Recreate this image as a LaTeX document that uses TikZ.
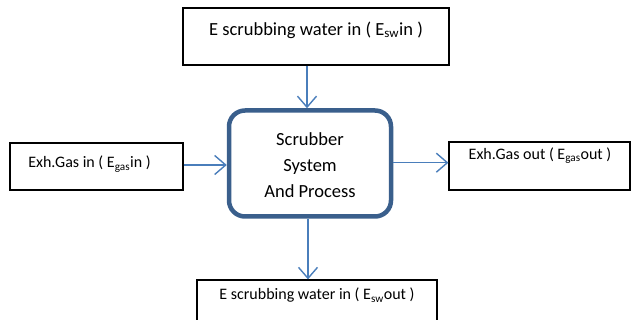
\documentclass[tikz,border=0pt]{standalone}
\usepackage{fontspec}
\setmainfont{Carlito}
\usetikzlibrary{arrows.meta}
\definecolor{coreblue}{RGB}{58, 95, 140}
\definecolor{flowblue}{RGB}{74, 126, 187}

\tikzset{
  box/.style={draw=black, line width=1.2pt, fill=white, inner sep=0pt},
  core/.style={draw=coreblue, line width=4.5pt, rounded corners=16pt, fill=white, inner sep=0pt},
  lbl/.style={inner sep=0pt, align=center},
  flow/.style={draw=flowblue, line width=1.4pt, -{Straight Barb[length=11pt,width=19pt,line width=1.4pt]}}
}

\begin{document}
\begin{tikzpicture}[x=1pt, y=-1pt]
 \useasboundingbox (0,0) rectangle (632,320);
 \clip (0,0) rectangle (632,320);

 % boxes
 \node[box, minimum width=266pt, minimum height=57pt] (swin) at (316,36.5) {};
 \node[box, minimum width=173pt, minimum height=47pt] (gasin) at (96.5,166.5) {};
 \node[box, minimum width=181pt, minimum height=48pt] (gasout) at (539.5,166) {};
 \node[box, minimum width=240pt, minimum height=50pt] (swout) at (317,305) {};
 \node[core, minimum width=162pt, minimum height=106pt] (scrub) at (310,163.5) {};

 % texts
 \node[lbl, font=\fontsize{18.5}{26}\selectfont] (swintext) at (316,30) {E scrubbing water in ( E\textsubscript{sw}in )};
 \node[lbl, font=\fontsize{16}{20}\selectfont] (gasintext) at (89.5,164) {Exh.Gas in ( E\textsubscript{gas}in )};
 \node[lbl, font=\fontsize{16}{20}\selectfont] (gasouttext) at (540,155.5) {Exh.Gas out ( E\textsubscript{gas}out )};
 \node[lbl, font=\fontsize{16}{20}\selectfont] (swouttext) at (317,295) {E scrubbing water in ( E\textsubscript{sw}out )};
 \node[lbl, font=\fontsize{18.5}{26}\selectfont] (scrubtext) at (310,165) {Scrubber\\System\\And Process};

 % connectors
 \coordinate (topx) at (307,0);
 \coordinate (botx) at (308,0);
 \coordinate (lefty) at (0,165);
 \coordinate (righty) at (0,162.7);
 \draw[flow] (swin.south -| topx) -- (scrub.north -| topx);
 \draw[flow] (scrub.south -| botx) -- (swout.north -| botx);
 \draw[flow] (gasin.east |- lefty) -- (scrub.west |- lefty);
 \draw[flow] (scrub.east |- righty) -- (gasout.west |- righty);
\end{tikzpicture}
\end{document}
